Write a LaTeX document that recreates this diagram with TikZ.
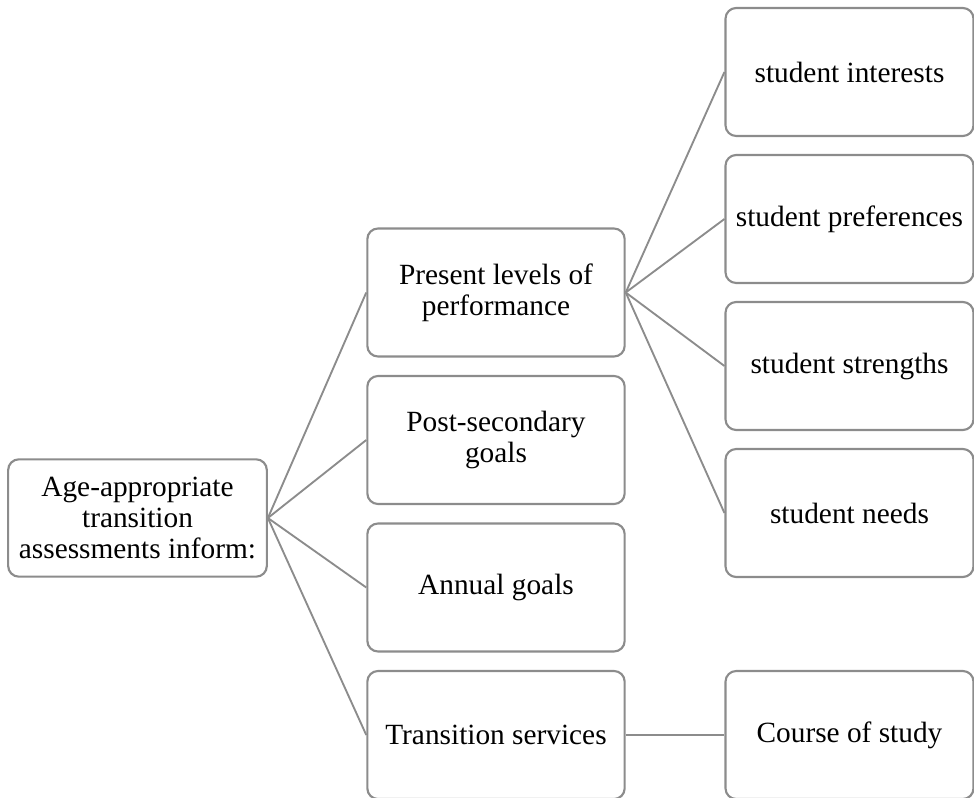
\documentclass[tikz,border=0pt]{standalone}
\usepackage{fontspec}
\setmainfont{Liberation Serif}
\usepackage{tikz}
\usetikzlibrary{positioning}
\definecolor{boxgray}{RGB}{140,140,140}

\begin{document}
\begin{tikzpicture}[
	%	style def
    x=0.75pt, y=-0.75pt,
    box/.style={draw=boxgray, line width=1.6pt, rounded corners=8pt, align=center,
        font=\fontsize{22}{23.5}\selectfont, inner sep=2pt},
    midbox/.style={box, minimum width=193pt, minimum height=96pt},
    leafbox/.style={box, minimum width=186pt, minimum height=96pt},
    link/.style={draw=boxgray, line width=1.4pt}
    ]
    \useasboundingbox (0,0) rectangle (974,798);

	% root
	\node[box, minimum width=194pt, minimum height=88pt] (root) at (137.5,518) {Age-appropriate\\transition\\assessments inform:};

	% middle column
	\node[midbox] (plop) at (496,292.5) {Present levels of\\performance};
	\node[midbox] (post) at (496,440) {Post-secondary\\goals};
	\node[midbox] (annual) at (496,587.5) {Annual goals};
	\node[midbox] (trans) at (496,735) {Transition services};

	% right column
	\node[leafbox] (interests) at (849.5,72) {student interests};
	\node[leafbox] (prefs) at (849.5,219) {student preferences};
	\node[leafbox] (strengths) at (849.5,366) {student strengths};
	\node[leafbox] (needs) at (849.5,513) {student needs};
	\node[leafbox] (course) at (849.5,735) {Course of study};

	% connections
	\foreach \m in {plop,post,annual,trans}
	    \draw[link] (root.east) -- (\m.west);
	\foreach \s in {interests,prefs,strengths,needs}
	    \draw[link] (plop.east) -- (\s.west);
	\draw[link] (trans.east) -- (course.west);
\end{tikzpicture}
\end{document}
